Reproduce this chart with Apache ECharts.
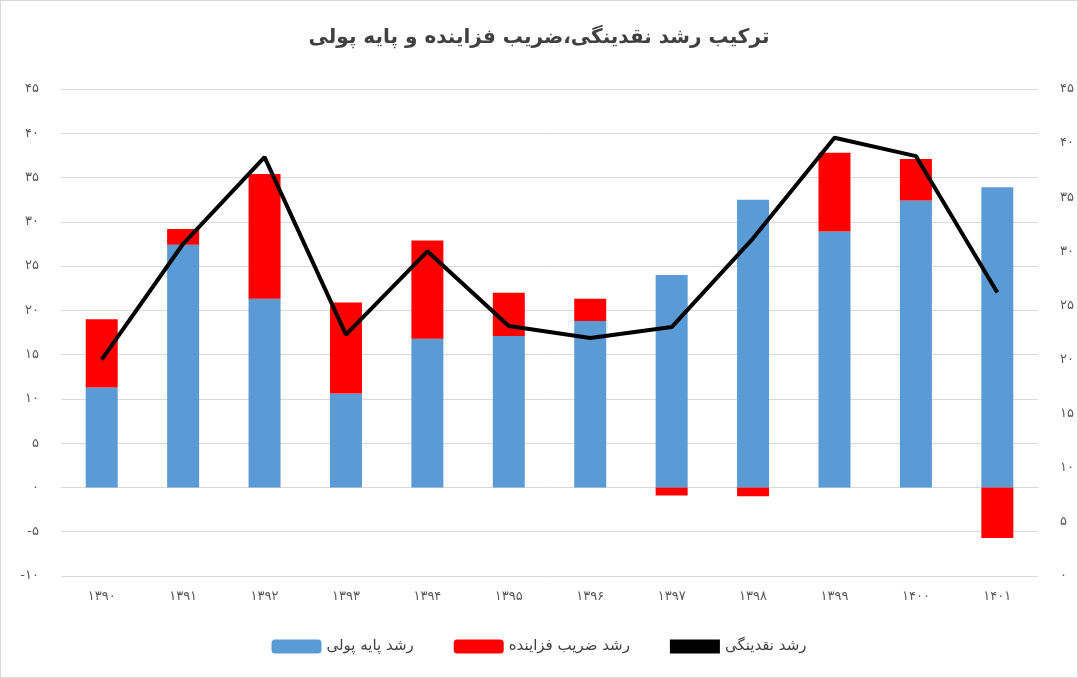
<!DOCTYPE html>
<html><head><meta charset="utf-8">
<script src="https://cdn.jsdelivr.net/npm/echarts@6/dist/echarts.min.js"></script>
<style>html,body{margin:0;padding:0;background:#fff}#c{width:1076px;height:676px;border:1px solid #d9d9d9}</style>
</head><body><div id="c"></div>
<script>
const categories = ['1390','1391','1392','1393','1394','1395','1396','1397','1398','1399','1400','1401'];
const baseMoney = [11.3,27.4,21.3,10.6,16.8,17.1,18.8,24.0,32.5,28.9,32.4,33.9];
const multiplier = [7.7,1.8,14.1,10.3,11.1,4.9,2.5,-0.9,-1.0,8.9,4.7,-5.7];
const liquidity = [20.0,30.7,38.7,22.3,30.0,23.1,22.0,23.0,31.2,40.5,38.8,26.2];
const fa = s => String(s).replace(/\d/g, d => '۰۱۲۳۴۵۶۷۸۹'[d]);
const txt = {color:'#595959', fontSize:13, fontFamily:'DejaVu Sans'};
const chart = echarts.init(document.getElementById('c'));
chart.setOption({
  animation:false,
  title:{text:'ترکیب رشد نقدینگی،ضریب فزاینده و پایه پولی', left:'center', top:22,
    textStyle:{fontSize:20, color:'#404040', fontWeight:'bold', fontFamily:'DejaVu Sans'}},
  legend:{bottom:18, itemGap:40, itemWidth:50, itemHeight:14, textStyle:{fontSize:15,color:'#404040',fontFamily:'DejaVu Sans'},
    data:['رشد پایه پولی','رشد ضریب فزاینده',{name:'رشد نقدینگی', icon:'rect'}]},
  grid:{left:60, right:38, top:88, bottom:101},
  xAxis:{type:'category', data:categories, axisTick:{show:false},
    axisLine:{lineStyle:{color:'#d9d9d9'}}, axisLabel:Object.assign({margin:14, formatter:fa}, txt)},
  yAxis:[
    {type:'value', min:-10, max:45, interval:5, splitLine:{lineStyle:{color:'#d9d9d9'}},
     axisLabel:Object.assign({formatter:fa, margin:22}, txt)},
    {type:'value', min:0, max:45, interval:5, splitLine:{show:false},
     axisLabel:Object.assign({formatter:fa, margin:22}, txt)}
  ],
  series:[
    {name:'رشد پایه پولی', type:'bar', stack:'a', data:baseMoney, barWidth:32, itemStyle:{color:'#5b9bd5'}},
    {name:'رشد ضریب فزاینده', type:'bar', stack:'a', data:multiplier, barWidth:32, itemStyle:{color:'#ff0000'}},
    {name:'رشد نقدینگی', type:'line', yAxisIndex:1, data:liquidity, symbol:'none',
     lineStyle:{color:'#000', width:4}, itemStyle:{color:'#000'}}
  ]
});
</script></body></html>
